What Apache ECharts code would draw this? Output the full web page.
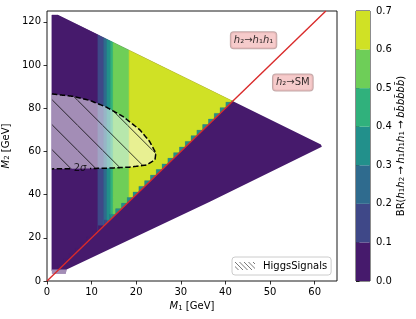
<!DOCTYPE html>
<html><head><meta charset="utf-8">
<script src="https://cdn.jsdelivr.net/npm/echarts@6/dist/echarts.min.js"></script>
<style>html,body{margin:0;padding:0;background:#fff}#c{width:416px;height:319px}</style>
</head><body><div id="c"></div>
<script>
// ---------- data ----------
const levels = [0, 0.1, 0.2, 0.3, 0.4, 0.5, 0.6, 0.7];
const levelColors = ['#461a6c', '#3f4888', '#2f6b8e', '#22908b', '#30b17c', '#6ece58', '#d0e125'];
const xTicks = [0, 10, 20, 30, 40, 50, 60];
const yTicks = [0, 20, 40, 60, 80, 100, 120];

// scanned domain (M1, M2)
const domainM1 = [1.1, 2.4, 61.4, 61.6, 36.5, 4.4, 4.2, 1.1];
const domainM2 = [123.1, 123.1, 63.2, 62.2, 36.7, 5.3, 3.4, 3.4];
const topM1 = [1.1, 2.4, 61.4];
const topM2 = [123.1, 123.1, 63.2];

// BR bands above the h2 -> h1 h1 threshold (by M1)
const bandM1Start = [1.1, 11.4, 12.7, 13.4, 14.2, 14.8, 18.4];
const bandM1End   = [11.4, 12.7, 13.4, 14.2, 14.8, 18.4, 41.8];
const bandBR      = [0.05, 0.15, 0.25, 0.35, 0.45, 0.55, 0.65];
const toothBR = 0.38;          // interpolated cells along the threshold
const thresholdRatio = 2;      // M2 = 2 M1
const gridOrigin = 1.1, gridStep = 1.3;   // scan grid in M1

// HiggsSignals 2 sigma contour
const hsM1 = [1.1, 5.8, 9.6, 13.3, 17.0, 20.8, 23.0, 24.4, 24.2, 22.3, 18.5, 13.3, 1.1];
const hsM2 = [86.6, 85.5, 83.6, 80.5, 76.2, 70.0, 64.6, 59.2, 56.1, 53.7, 52.7, 52.2, 51.9];
const hsStripM1 = [1.1, 4.2, 4.4, 1.1];
const hsStripM2 = [3.4, 3.4, 5.3, 5.3];
const sigmaLabel = {m1: 7.4, m2: 52.2, text: '2{i|σ}'};

const annotM1 = [46.3, 55.1];
const annotM2 = [111.5, 91.9];
const annotText = ['{i|h}₂→{i|h}₁{i|h}₁', '{i|h}₂→SM'];

// ---------- helpers ----------
function colorFor(v) {
  for (let i = 0; i < levelColors.length; i++) if (v < levels[i + 1]) return levelColors[i];
  return levelColors[levelColors.length - 1];
}
function interp(xs, ys, x) {
  if (x <= xs[0]) return ys[0];
  for (let i = 0; i < xs.length - 1; i++) {
    if (x <= xs[i + 1]) { const t = (x - xs[i]) / (xs[i + 1] - xs[i]); return ys[i] + t * (ys[i + 1] - ys[i]); }
  }
  return ys[ys.length - 1];
}
const topAt = x => interp(topM1, topM2, x);
function cellTop(x) { const k = Math.floor((x - gridOrigin) / gridStep + 1e-9); return gridOrigin + (k + 1) * gridStep; }

function makeHatch(size, off, bg, stroke, lw) {
  const c = document.createElement('canvas'); c.width = size; c.height = size;
  const ctx = c.getContext('2d');
  if (bg) { ctx.fillStyle = bg; ctx.fillRect(0, 0, size, size); }
  ctx.strokeStyle = stroke; ctx.lineWidth = lw; ctx.beginPath();
  for (let k = -2; k <= 2; k++) { ctx.moveTo(k * size + off, 0); ctx.lineTo(k * size + off + size, size); }
  ctx.stroke();
  return c;
}
const hatchPattern = makeHatch(25, 2.3, 'rgba(255,255,255,0.5)', 'rgba(0,0,0,0.85)', 0.9);
const legendIcon = (function () {
  const c = document.createElement('canvas'); c.width = 20; c.height = 8;
  const ctx = c.getContext('2d'); ctx.strokeStyle = '#555'; ctx.lineWidth = 0.8; ctx.beginPath();
  for (let k = -2; k < 6; k++) { ctx.moveTo(k * 4.5, 0); ctx.lineTo(k * 4.5 + 8, 8); }
  ctx.stroke(); return c.toDataURL();
})();

const font = 'DejaVu Sans';
const sub = {fontSize: 7, fontFamily: font, verticalAlign: 'bottom', lineHeight: 9};
const ital = {fontStyle: 'italic', fontFamily: font, fontSize: 10};
const arrow = {fontFamily: font, fontSize: 10, padding: [0, 2.5, 0, 2.5]};
const rich = {i: ital, s: sub, a: arrow};

// ---------- series ----------
const domainSeries = {
  type: 'custom', name: 'domain', silent: true, clip: true, z: 1,
  data: [[0, 0]],
  renderItem: (p, api) => ({
    type: 'polygon',
    shape: {points: domainM1.map((m, i) => api.coord([m, domainM2[i]]))},
    style: {fill: colorFor(0)}
  })
};

const bandSeries = {
  type: 'custom', name: 'bands', silent: true, clip: true, z: 2,
  data: bandM1Start.map((s, i) => [s, bandM1End[i], bandBR[i]]),
  renderItem: (p, api) => {
    const a = api.value(0), b = api.value(1), v = api.value(2);
    const xs = [a]; let g = cellTop(a);
    while (g < b - 1e-6) { xs.push(g); g += gridStep; }
    xs.push(b);
    const bottom = [], teeth = [];
    for (let i = 0; i < xs.length - 1; i++) {
      const x0 = xs[i], x1 = xs[i + 1];
      const low = thresholdRatio * cellTop(x0);
      const y0 = Math.min(low, topAt(x0)), y1 = Math.min(low, topAt(x1));
      bottom.push(api.coord([x0, y0]), api.coord([x1, y1]));
      if (v >= levels[1]) {
        const tv = Math.min(toothBR, v - 0.1);
        const c = colorFor(tv);
        teeth.push({type: 'polygon', shape: {points: [
          api.coord([x0, thresholdRatio * x0]), api.coord([x1, thresholdRatio * x1]),
          api.coord([x1, y1]), api.coord([x0, y0])]}, style: {fill: c, stroke: c, lineWidth: 0.3}});
      }
    }
    const top = [api.coord([b, topAt(b)])];
    for (let i = topM1.length - 1; i >= 0; i--) if (topM1[i] > a && topM1[i] < b) top.push(api.coord([topM1[i], topM2[i]]));
    top.push(api.coord([a, topAt(a)]));
    const col = colorFor(v);
    return {type: 'group', children: [{type: 'polygon', shape: {points: bottom.concat(top)},
      style: {fill: col, stroke: col, lineWidth: 0.5}}].concat(teeth)};
  }
};

function dashedContour(api) {
  const lines = []; let cur = [];
  for (let i = 0; i < hsM1.length - 1; i++) {
    for (let s = 0; s < 30; s++) {
      const t = s / 30;
      const x = hsM1[i] + t * (hsM1[i + 1] - hsM1[i]);
      const y = hsM2[i] + t * (hsM2[i + 1] - hsM2[i]);
      const inGap = Math.abs(x - sigmaLabel.m1) < 1.9 && Math.abs(y - sigmaLabel.m2) < 3;
      if (inGap) { if (cur.length > 1) lines.push(cur); cur = []; }
      else cur.push(api.coord([x, y]));
    }
  }
  cur.push(api.coord([hsM1[hsM1.length - 1], hsM2[hsM2.length - 1]]));
  if (cur.length > 1) lines.push(cur);
  return lines.map(pts => ({type: 'polyline', shape: {points: pts},
    style: {stroke: '#000', lineWidth: 1.5, lineDash: [5.5, 2.4], fill: null}}));
}

const hsSeries = {
  type: 'custom', name: 'HiggsSignals', silent: true, clip: true, z: 4,
  data: [[0, 0]],
  renderItem: (p, api) => ({
    type: 'group',
    children: [
      {type: 'polygon', shape: {points: hsM1.map((m, i) => api.coord([m, hsM2[i]]))},
        style: {fill: {image: hatchPattern, repeat: 'repeat'}}},
      {type: 'polygon', shape: {points: hsStripM1.map((m, i) => api.coord([m, hsStripM2[i]]))},
        style: {fill: 'rgba(255,255,255,0.5)'}}
    ].concat(dashedContour(api))
  })
};

const ymax = 125;
const thresholdLine = {
  type: 'line', name: 'threshold', silent: true, z: 5, symbol: 'none',
  data: [[0, 0], [ymax / thresholdRatio, ymax]],
  lineStyle: {color: '#d92b2b', width: 1.4}
};

const labelSeries = {
  type: 'scatter', name: 'labels', silent: true, z: 6, symbolSize: 0,
  data: [
    ...annotM1.map((m, i) => ({value: [m, annotM2[i]], label: {formatter: annotText[i],
      backgroundColor: '#f4bebe', borderColor: '#b49494', borderWidth: 1, borderRadius: 3, padding: [2, 3, 2, 3]}})),
    {value: [sigmaLabel.m1, sigmaLabel.m2], label: {formatter: sigmaLabel.text}}
  ],
  label: {show: true, position: 'inside', color: '#000', fontSize: 10, fontFamily: font, lineHeight: 12, rich: rich}
};

const cbSeries = {
  type: 'custom', name: 'colorbar', silent: true, xAxisIndex: 1, yAxisIndex: 1,
  data: levelColors.map((c, i) => [levels[i], levels[i + 1], i]),
  renderItem: (p, api) => {
    const p0 = api.coord([0, api.value(1)]), p1 = api.coord([1, api.value(0)]);
    return {type: 'rect', shape: {x: p0[0], y: p0[1], width: p1[0] - p0[0], height: p1[1] - p0[1]},
      style: {fill: levelColors[api.value(2)]}};
  }
};

const tickStyle = {show: true, inside: false, length: 3.5, lineStyle: {color: '#000', width: 0.8}};
const labStyle = {color: '#000', fontSize: 10, fontFamily: font};

const option = {
  animation: false,
  grid: [
    {left: 47, top: 11, width: 290, height: 270, show: true, borderColor: '#000', borderWidth: 0.9,
      backgroundColor: 'transparent', outerBoundsMode: 'none', containLabel: false},
    {left: 356, top: 11, width: 14, height: 270, show: true, borderColor: '#000', borderWidth: 0.9,
      backgroundColor: 'transparent', outerBoundsMode: 'none', containLabel: false}
  ],
  xAxis: [
    {type: 'value', gridIndex: 0, min: 0, max: 65, interval: 10,
      axisLine: {show: false}, splitLine: {show: false},
      axisTick: Object.assign({customValues: xTicks}, tickStyle),
      axisLabel: Object.assign({customValues: xTicks, margin: 6}, labStyle),
      name: '{i|M}{s|1} [GeV]', nameLocation: 'middle', nameGap: 16,
      nameTextStyle: {color: '#000', fontSize: 10, fontFamily: font, rich: rich}},
    {type: 'value', gridIndex: 1, min: 0, max: 1, show: false}
  ],
  yAxis: [
    {type: 'value', gridIndex: 0, min: 0, max: ymax, interval: 20,
      axisLine: {show: false}, splitLine: {show: false},
      axisTick: Object.assign({customValues: yTicks}, tickStyle),
      axisLabel: Object.assign({customValues: yTicks, margin: 6}, labStyle),
      name: '{i|M}{s|2} [GeV]', nameLocation: 'middle', nameGap: 28, nameRotate: 90,
      nameTextStyle: {color: '#000', fontSize: 10, fontFamily: font, rich: rich}},
    {type: 'value', gridIndex: 1, position: 'right', min: 0, max: 0.7, interval: 0.1,
      axisLine: {show: false}, splitLine: {show: false},
      axisTick: Object.assign({customValues: levels}, tickStyle),
      axisLabel: Object.assign({customValues: levels, margin: 6, formatter: v => v.toFixed(1)}, labStyle),
      name: 'BR({i|h}{s|1}{i|h}{s|2}{a|→}{i|h}{s|1}{i|h}{s|1}{i|h}{s|1}{a|→}{i|bb̄bb̄bb̄})', nameLocation: 'middle', nameGap: 26, nameRotate: 90,
      nameTextStyle: {color: '#000', fontSize: 10, fontFamily: font, rich: rich}}
  ],
  legend: {
    data: [{name: 'HiggsSignals', icon: 'image://' + legendIcon}],
    left: 232, top: 257, orient: 'vertical',
    itemWidth: 20, itemHeight: 8, padding: [4, 4, 4, 3],
    backgroundColor: 'rgba(255,255,255,0.85)', borderColor: '#cccccc', borderWidth: 1, borderRadius: 3,
    textStyle: {color: '#000', fontSize: 10, fontFamily: font, padding: [0, 0, 0, 3]},
    selectedMode: false
  },
  series: [domainSeries, bandSeries, hsSeries, thresholdLine, labelSeries, cbSeries]
};
const chart = echarts.init(document.getElementById('c'));
chart.setOption(option);
</script></body></html>
